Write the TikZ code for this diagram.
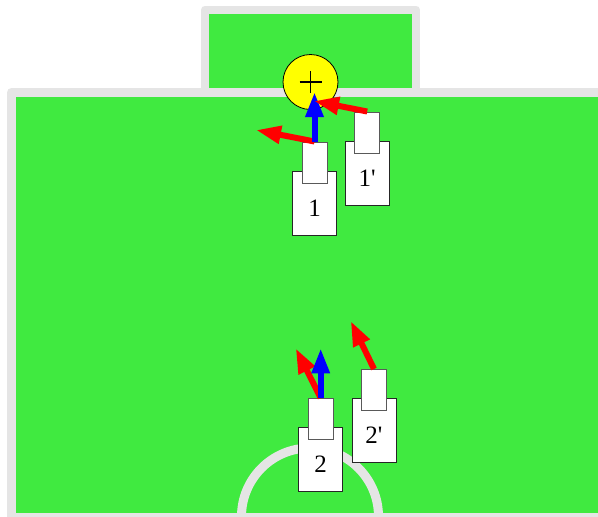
\documentclass[tikz,border=0pt]{standalone}
\usepackage{fontspec}
\setmainfont{Liberation Serif}
\usetikzlibrary{positioning,arrows.meta}
\definecolor{PitchGreen}{RGB}{64,234,64}
\definecolor{LineGrey}{RGB}{229,229,229}
\definecolor{BallYellow}{RGB}{255,255,0}
\definecolor{MoveRed}{RGB}{255,0,0}
\definecolor{FaceBlue}{RGB}{0,0,255}

\begin{document}
\begin{tikzpicture}[x=1pt,y=-1pt,>={Triangle[length=25pt,width=17pt]}]
  \tikzstyle{pitchline}=[draw=LineGrey,line width=9pt,line join=round]
  \tikzstyle{body}=[draw=black!85,fill=white,line width=1pt,inner sep=0pt,
    minimum width=44pt,minimum height=64pt,text height=26pt,text depth=0pt,
    font=\fontsize{25}{28}\selectfont]
  \tikzstyle{head}=[draw=black!65,fill=white,line width=1pt,inner sep=0pt,
    minimum width=25pt,minimum height=41pt]
  \tikzstyle{moveto}=[->,color=MoveRed,line width=6pt]
  \tikzstyle{faceto}=[->,color=FaceBlue,line width=6pt]
  \clip (0,0) rectangle (598,517);
  % pitch
  \filldraw[pitchline,fill=PitchGreen,line width=8pt] (205,9.5) rectangle (416,92.5);
  \filldraw[pitchline,fill=PitchGreen] (11.5,92.5) rectangle (640,517);
  \draw[pitchline] (310,516.5) circle[radius=68.5pt];
  % ball
  \node[circle,draw=black,fill=BallYellow,line width=0.8pt,inner sep=0pt,
    minimum size=55pt] (ball) at (310.5,82) {};
  \draw[line width=1.2pt] ([xshift=-11pt]ball.center) -- ([xshift=11pt]ball.center)
    ([yshift=-11pt]ball.center) -- ([yshift=11pt]ball.center);
  % robots
  \node[body] (r1) at (314.5,203) {1};
  \node[head,above=-13pt of r1] (h1) {};
  \node[body] (r1p) at (367.2,173) {1\textquotesingle};
  \node[head,above=-13pt of r1p] (h1p) {};
  \node[body] (r2) at (320.7,459.5) {2};
  \node[head,above=-13pt of r2] (h2) {};
  \node[body] (r2p) at (374,430.5) {2\textquotesingle};
  \node[head,above=-13pt of r2p] (h2p) {};
  % targets
  \coordinate (m1) at (256,130);
  \coordinate (f1) at (314.5,92);
  \coordinate (m1p) at (314,101);
  \coordinate (m2) at (295.7,348.3);
  \coordinate (f2) at (320.7,348.3);
  \coordinate (m2p) at (350.7,321);
  \draw[moveto] (h1.north) -- (m1);
  \draw[faceto] (h1.north) -- (f1);
  \draw[moveto] (h1p.north) -- (m1p);
  \draw[moveto] (h2.north) -- (m2);
  \draw[faceto] (h2.north) -- (f2);
  \draw[moveto] (h2p.north) -- (m2p);
\end{tikzpicture}
\end{document}
